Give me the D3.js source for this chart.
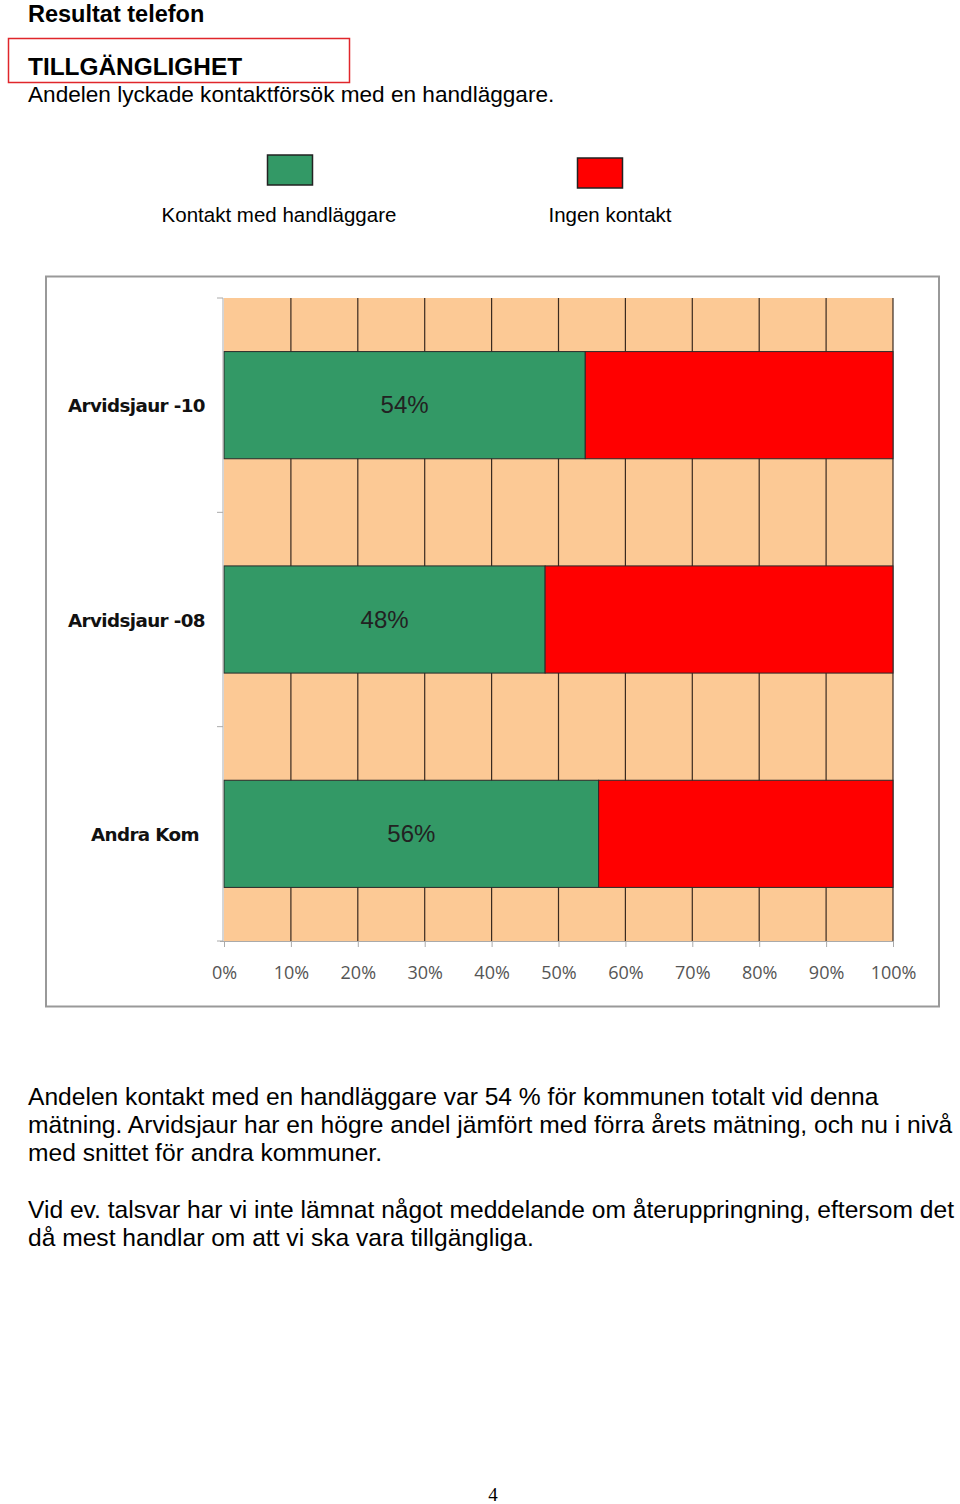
<!DOCTYPE html>
<html><head><meta charset="utf-8">
<script src="https://cdn.jsdelivr.net/npm/d3@7/dist/d3.min.js"></script>
<style>body{margin:0;background:#fff}svg{display:block}</style>
</head><body>
<script>
const categories = ["Arvidsjaur -10", "Arvidsjaur -08", "Andra Kom"];
const kontakt = [54, 48, 56];
const ingenKontakt = [46, 52, 44];
const seriesNames = ["Kontakt med handläggare", "Ingen kontakt"];
const seriesColors = ["#339966", "#FF0000"];
const xTicks = [0,10,20,30,40,50,60,70,80,90,100];
const paragraph1 = ["Andelen kontakt med en handläggare var 54 % för kommunen totalt vid denna",
  "mätning. Arvidsjaur har en högre andel jämfört med förra årets mätning, och nu i nivå",
  "med snittet för andra kommuner."];
const paragraph2 = ["Vid ev. talsvar har vi inte lämnat något meddelande om återuppringning, eftersom det",
  "då mest handlar om att vi ska vara tillgängliga."];

const svg = d3.select("body").append("svg").attr("width",960).attr("height",1504);
const sans = "'Liberation Sans', Arial, sans-serif";

svg.append("text").attr("x",28).attr("y",22).attr("font-family",sans).attr("font-weight","bold")
  .attr("font-size",23.5).text("Resultat telefon");
svg.append("rect").attr("x",8.5).attr("y",38.5).attr("width",341).attr("height",44)
  .attr("fill","none").attr("stroke","#e0262b").attr("stroke-width",1.5);
svg.append("text").attr("x",28).attr("y",75).attr("font-family",sans).attr("font-weight","bold")
  .attr("font-size",24.4).text("TILLGÄNGLIGHET");
svg.append("text").attr("x",28).attr("y",102).attr("font-family",sans)
  .attr("font-size",22.6).text("Andelen lyckade kontaktförsök med en handläggare.");

// legend
const legX = [290, 600], legSwY = [155, 158];
seriesNames.forEach((n,i)=>{
  svg.append("rect").attr("x",legX[i]-22.5).attr("y",legSwY[i]).attr("width",45).attr("height",30)
    .attr("fill",seriesColors[i]).attr("stroke","#222").attr("stroke-width",1.5);
  svg.append("text").attr("x",[279,610][i]).attr("y",222).attr("text-anchor","middle")
    .attr("font-family",sans).attr("font-size",20.5).text(n);
});

// chart frame
svg.append("rect").attr("x",46).attr("y",276.5).attr("width",893).attr("height",730)
  .attr("fill","#fff").attr("stroke","#999").attr("stroke-width",2);

const x = d3.scaleLinear().domain([0,100]).range([224,893]);
const y = d3.scaleBand().domain(categories).range([298,941]).paddingInner(0.5).paddingOuter(0.25);
const band = d3.scaleBand().domain(categories).range([298,941]);

// plot background
svg.append("rect").attr("x",x(0)).attr("y",298).attr("width",x(100)-x(0)).attr("height",643).attr("fill","#FCC995");
// gridlines
svg.append("g").selectAll("line").data(xTicks.slice(1)).join("line")
  .attr("x1",d=>x(d)).attr("x2",d=>x(d)).attr("y1",298).attr("y2",941)
  .attr("stroke","#3a2a20").attr("stroke-width",1.2);

const data = categories.map((c,i)=>({c, vals:[kontakt[i], ingenKontakt[i]]}));
data.forEach(d=>{
  let acc=0;
  d.vals.forEach((v,j)=>{
    svg.append("rect").attr("x",x(acc)).attr("y",y(d.c)).attr("width",x(acc+v)-x(acc)).attr("height",y.bandwidth())
      .attr("fill",seriesColors[j]).attr("stroke","#2a2a2a").attr("stroke-width",1);
    acc+=v;
  });
  svg.append("text").attr("x",(x(0)+x(d.vals[0]))/2).attr("y",y(d.c)+y.bandwidth()/2+8)
    .attr("text-anchor","middle").attr("font-family",sans).attr("font-size",24).attr("fill","#222")
    .text(d.vals[0]+"%");
});

// y axis
const yAxis = svg.append("g").attr("transform","translate(223,0)");
yAxis.append("line").attr("x1",0).attr("x2",0).attr("y1",298).attr("y2",941).attr("stroke","#aaa");
const yEdges = [298, ...categories.map(c=>band(c)+band.bandwidth())];
yAxis.selectAll("line.t").data(yEdges).join("line").attr("class","t")
  .attr("x1",-6).attr("x2",0).attr("y1",d=>d).attr("y2",d=>d).attr("stroke","#aaa");
svg.append("g").selectAll("text").data(categories).join("text")
  .attr("x",205).attr("y",d=>y(d)+y.bandwidth()/2+7).attr("text-anchor","end")
  .attr("font-family","'DejaVu Sans', Verdana, sans-serif").attr("font-weight","bold")
  .attr("font-size",18.3).attr("letter-spacing",-0.6).attr("fill","#111")
  .attr("dx",(d,i)=>i===2?-6:0).text(d=>d);

// x axis
const xAxis = svg.append("g").attr("transform","translate(0,941)")
  .call(d3.axisBottom(x).tickValues(xTicks).tickSize(6).tickFormat(d=>d+"%"));
xAxis.select(".domain").attr("stroke","#aaa").attr("d",`M${x(0)-4},0.5H${x(100)}`);
xAxis.selectAll(".tick line").attr("stroke","#aaa");
xAxis.selectAll(".tick text").attr("dy",0).attr("y",38).attr("font-family","'Open Sans', sans-serif")
  .attr("font-size",18).attr("fill","#555");

// paragraphs
const p = svg.append("g").attr("font-family",sans).attr("font-size",24.6).attr("fill","#000");
paragraph1.forEach((t,i)=>p.append("text").attr("x",28).attr("y",1105+i*28).text(t));
paragraph2.forEach((t,i)=>p.append("text").attr("x",28).attr("y",1218+i*28).text(t));

svg.append("text").attr("x",493).attr("y",1501).attr("text-anchor","middle")
  .attr("font-family","'Liberation Serif', serif").attr("font-size",19).text("4");
</script>
</body></html>
